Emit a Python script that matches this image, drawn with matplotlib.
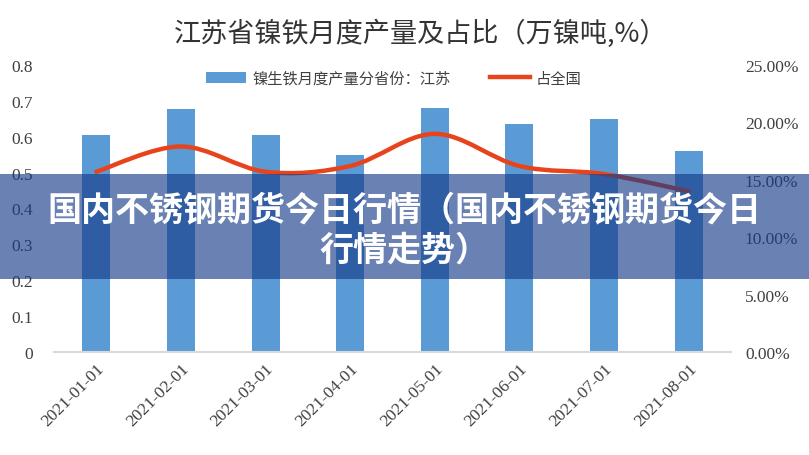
import matplotlib
matplotlib.use('Agg')
import matplotlib.pyplot as plt
from matplotlib.path import Path
from matplotlib.patches import PathPatch, Patch, Rectangle
from matplotlib.lines import Line2D
import numpy as np

plt.rcParams['font.family'] = ['Noto Sans CJK SC', 'DejaVu Sans']

#------------------------------------------------------------------------------#
# Data.
months = ['2021-01-01', '2021-02-01', '2021-03-01', '2021-04-01',
          '2021-05-01', '2021-06-01', '2021-07-01', '2021-08-01']
output_js = [0.605, 0.677, 0.605, 0.549, 0.680, 0.636, 0.650, 0.560]   # 万镍吨
share_pct = [15.7, 17.9, 15.7, 16.2, 19.0, 16.2, 15.5, 14.0]           # %
left_ticks = [0, 0.1, 0.2, 0.3, 0.4, 0.5, 0.6, 0.7, 0.8]
right_ticks = [0, 5, 10, 15, 20, 25]

bar_color = '#5b9bd5'
line_color = '#e8441c'
tick_color = '#404040'
serif = ['Liberation Serif', 'DejaVu Serif']

#------------------------------------------------------------------------------#
def smooth_path(xs, ys):
    # Catmull-Rom style bezier through the points (like Excel's smoothed line)
    xs = np.asarray(xs, float); ys = np.asarray(ys, float)
    n = len(xs)
    verts = [(xs[0], ys[0])]
    codes = [Path.MOVETO]
    for i in range(n - 1):
        i0 = max(i - 1, 0); i3 = min(i + 2, n - 1)
        c1 = (xs[i] + (xs[i + 1] - xs[i0]) / 6, ys[i] + (ys[i + 1] - ys[i0]) / 6)
        c2 = (xs[i + 1] - (xs[i3] - xs[i]) / 6, ys[i + 1] - (ys[i3] - ys[i]) / 6)
        verts += [c1, c2, (xs[i + 1], ys[i + 1])]
        codes += [Path.CURVE4] * 3
    return Path(verts, codes)

#------------------------------------------------------------------------------#
fig = plt.figure(figsize=(8.09, 4.56), dpi=100)
ax = fig.add_axes([0.0667, 0.2259, 0.8369, 0.6294])
ax2 = ax.twinx()

x = np.arange(len(months))
ax.bar(x, output_js, width=0.33, color=bar_color, zorder=2)
ax.set_xlim(-0.5, len(months) - 0.5)
ax.set_ylim(0, 0.8)
ax.set_yticks(left_ticks)
ax.set_yticklabels(['0' if v == 0 else f'{v:.1f}' for v in left_ticks])
ax.set_xticks(x)
ax.set_xticklabels(months, rotation=45, ha='right', rotation_mode='anchor')

ax2.set_ylim(0, 25)
ax2.set_yticks(right_ticks)
ax2.set_yticklabels([f'{v:.2f}%' for v in right_ticks])
ax2.add_patch(PathPatch(smooth_path(x, share_pct), facecolor='none',
                        edgecolor=line_color, lw=3.2, capstyle='round', zorder=3))

for a in (ax, ax2):
    for s in a.spines.values():
        s.set_visible(False)
    a.tick_params(length=0, colors=tick_color, labelsize=12.5)
    for lab in a.get_xticklabels() + a.get_yticklabels():
        lab.set_family(serif)
ax.spines['bottom'].set_visible(True)
ax.spines['bottom'].set_color('#d9d9d9')
ax.spines['bottom'].set_linewidth(1.5)
ax.tick_params(axis='y', pad=15)
ax.tick_params(axis='x', pad=6)
ax2.tick_params(axis='y', pad=10)

fig.text(0.52, 0.925, '江苏省镍铁月度产量及占比（万镍吨,%）', ha='center', va='center',
         fontsize=19.5, color='#333333')

handles = [Patch(facecolor=bar_color), Line2D([], [], color=line_color, lw=3.2)]
fig.legend(handles, ['镍生铁月度产量分省份：江苏', '占全国'], loc='center',
           bbox_to_anchor=(0.487, 0.826), ncol=2, frameon=False, fontsize=11,
           handlelength=2.6, handletextpad=0.4, columnspacing=2.6,
           labelcolor='#404040')

# banner overlay
fig.patches.append(Rectangle((0, 1 - 280 / 456), 1, 105 / 456, transform=fig.transFigure,
                             facecolor=(22 / 255, 59 / 255, 137 / 255), alpha=0.64,
                             zorder=10))
fig.text(0.5, 1 - 210 / 456, '国内不锈钢期货今日行情（国内不锈钢期货今日', ha='center',
         va='center', fontsize=24.5, fontweight='bold', color='white', zorder=11)
fig.text(0.5, 1 - 250 / 456, '行情走势）', ha='center', va='center', fontsize=24.5,
         fontweight='bold', color='white', zorder=11)

fig.savefig('out.png', dpi=100)
